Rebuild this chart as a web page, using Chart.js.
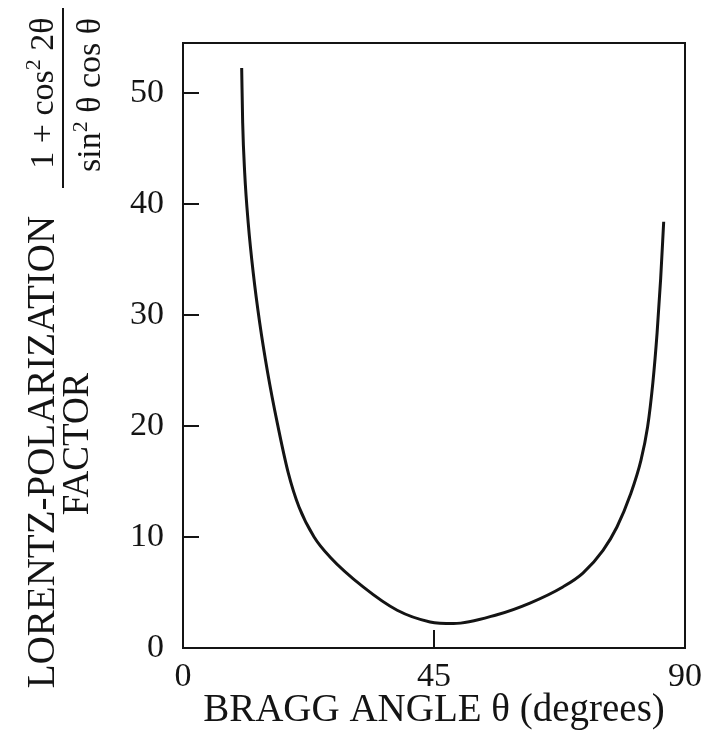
<!DOCTYPE html>
<html>
<head>
<meta charset="utf-8">
<script src="https://cdn.jsdelivr.net/npm/chart.js@4.4.1/dist/chart.umd.min.js"></script>
<style>
html,body{margin:0;padding:0;background:#fff;}
#wrap{width:711px;height:750px;}
</style>
</head>
<body>
<div id="wrap"><canvas id="c" width="711" height="750"></canvas></div>
<script>
// Bragg angle (degrees)
const braggAngle = [10.52, 10.70, 11.06, 11.69, 12.59, 13.75, 15.18, 16.89, 18.86, 20.8, 23.5, 26.35, 32.3, 38.4, 44.3, 48.5, 56.3, 62.2, 68.1, 71.7, 75.3, 77.8, 80.2, 82.1, 83.29, 84.24, 85.0, 85.64, 86.18];
// Lorentz-polarization factor
const lpFactor = [52.25, 47.3, 42.8, 38.3, 33.8, 29.3, 24.8, 20.3, 15.8, 12.7, 10.0, 8.2, 5.5, 3.4, 2.35, 2.2, 3.0, 4.05, 5.5, 6.75, 8.8, 10.9, 13.8, 16.9, 19.9, 23.9, 28.4, 33.3, 38.4];
const xTickValues = [0, 45, 90];
const yTickValues = [0, 10, 20, 30, 40, 50];
const xInnerTicks = [45];
const yInnerTicks = [10, 20, 30, 40, 50];
const xTitle = 'BRAGG ANGLE \u03b8 (degrees)';
const yTitleLines = ['LORENTZ-POLARIZATION', 'FACTOR'];

const SERIF = "'Liberation Serif', 'DejaVu Serif', serif";
const INK = '#141414';

const points = braggAngle.map((t, i) => ({x: t, y: lpFactor[i]}));

const framePlugin = {
  id: 'frame',
  afterDatasetsDraw(chart) {
    const {ctx, chartArea: a, scales: {x, y}} = chart;
    ctx.save();
    ctx.strokeStyle = INK;
    ctx.lineWidth = 2;
    ctx.strokeRect(a.left, a.top, a.right - a.left, a.bottom - a.top);
    ctx.beginPath();
    yInnerTicks.forEach(v => {
      const py = Math.round(y.getPixelForValue(v));
      ctx.moveTo(a.left, py); ctx.lineTo(a.left + 16, py);
    });
    xInnerTicks.forEach(v => {
      const px = Math.round(x.getPixelForValue(v));
      ctx.moveTo(px, a.bottom); ctx.lineTo(px, a.bottom - 18);
    });
    ctx.stroke();
    ctx.restore();
  }
};

function drawParts(ctx, parts, centerX, baseY) {
  let total = 0;
  parts.forEach(p => { ctx.font = p[1] + 'px ' + SERIF; p.w = ctx.measureText(p[0]).width; total += p.w; });
  let xx = centerX - total / 2;
  parts.forEach(p => {
    ctx.font = p[1] + 'px ' + SERIF;
    ctx.fillText(p[0], xx, baseY - p[2]);
    xx += p.w;
  });
}

const labelPlugin = {
  id: 'ylabel',
  afterDraw(chart) {
    const ctx = chart.ctx;
    ctx.save();
    ctx.fillStyle = INK;
    ctx.textBaseline = 'alphabetic';
    ctx.textAlign = 'left';
    ctx.save();
    ctx.translate(54, 452);
    ctx.rotate(-Math.PI / 2);
    drawParts(ctx, [[yTitleLines[0], 39, 0]], 0, 0);
    ctx.restore();
    ctx.save();
    ctx.translate(88, 444);
    ctx.rotate(-Math.PI / 2);
    drawParts(ctx, [[yTitleLines[1], 37, 0]], 0, 0);
    ctx.restore();
    ctx.save();
    ctx.translate(63, 98);
    ctx.rotate(-Math.PI / 2);
    drawParts(ctx, [['1 + cos', 34, 0], ['2', 22, 13], [' 2\u03b8', 34, 0]], 5, -10);
    drawParts(ctx, [['sin', 34, 0], ['2', 22, 13], [' \u03b8 cos \u03b8', 34, 0]], 3, 37);
    ctx.strokeStyle = INK;
    ctx.lineWidth = 2;
    ctx.beginPath();
    ctx.moveTo(-90, 0); ctx.lineTo(90, 0);
    ctx.stroke();
    ctx.restore();
    ctx.restore();
  }
};

new Chart(document.getElementById('c'), {
  type: 'line',
  data: {
    datasets: [{
      data: points,
      borderColor: INK,
      borderWidth: 3,
      pointRadius: 0,
      fill: false,
      cubicInterpolationMode: 'monotone',
      borderCapStyle: 'butt'
    }]
  },
  options: {
    responsive: false,
    animation: false,
    devicePixelRatio: 1,
    layout: {padding: {top: 43, right: 26, bottom: 0, left: 0}},
    plugins: {legend: {display: false}, tooltip: {enabled: false}},
    scales: {
      x: {
        type: 'linear',
        min: 0, max: 90,
        grid: {display: false, drawTicks: false},
        border: {display: false},
        afterBuildTicks: s => { s.ticks = xTickValues.map(v => ({value: v})); },
        afterFit: s => { s.height = 102; },
        ticks: {font: {family: SERIF, size: 34}, color: INK, padding: 9, maxRotation: 0, autoSkip: false},
        title: {display: true, text: xTitle, font: {family: SERIF, size: 39}, color: INK, padding: {top: 0, bottom: 16}}
      },
      y: {
        type: 'linear',
        min: 0, max: 54.5,
        grid: {display: false, drawTicks: false},
        border: {display: false},
        afterBuildTicks: s => { s.ticks = yTickValues.map(v => ({value: v})); },
        afterFit: s => { s.width = 183; },
        ticks: {font: {family: SERIF, size: 34}, color: INK, padding: 19, autoSkip: false}
      }
    }
  },
  plugins: [framePlugin, labelPlugin]
});
</script>
</body>
</html>
